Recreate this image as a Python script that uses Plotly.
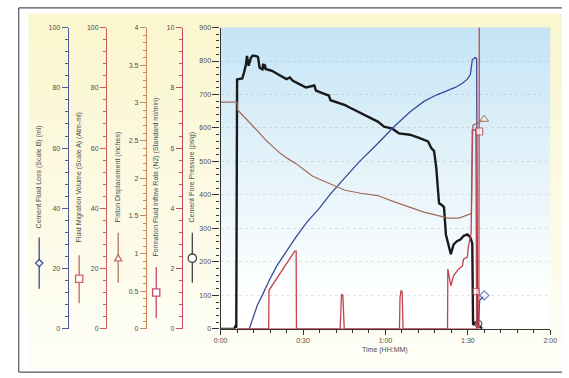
import plotly.graph_objects as go

W, H = 569, 378

# ---------------- data ----------------
# time in minutes
pressure_t = [0, 5.0, 5.3, 5.7, 6.0, 7.9, 8.5, 9.2, 9.6, 10.2, 11.0, 11.6, 12.8, 13.6, 14.2, 15.2, 15.5,
              15.8, 16.1, 16.4, 17.4, 18.7, 21.0, 24.0, 25.2, 26.3, 28.5, 31.1, 34.1, 34.7, 37.0, 39.4,
              40.0, 42.5, 45.3, 47.5, 50.1, 52.5, 54.7, 57.2, 59.5, 62.5, 64.9, 68.9, 72.0, 75.5, 76.7,
              77.7, 78.5, 79.1, 79.5, 80.5, 81.3, 82.0, 83.1, 83.8, 84.8, 86.0, 87.3, 88.5, 89.8, 90.9,
              91.6, 91.9, 92.7, 93.8, 95.1]
pressure_psig = [0, 0, 6, 4, 745, 748, 765, 789, 815, 786, 809, 816, 815, 812, 780, 775, 792,
                 776, 790, 776, 774, 771, 760, 746, 751, 741, 732, 721, 727, 712, 704, 697,
                 683, 676, 668, 659, 648, 638, 628, 619, 604, 598, 584, 580, 571, 560, 540,
                 531, 481, 404, 375, 370, 364, 282, 246, 223, 252, 262, 267, 278, 282, 273,
                 255, 12, 18, 15, 0]

piston_t = [0, 6.0, 6.1, 8.1, 10.0, 12.1, 14.5, 16.9, 19.3, 21.7, 24.5, 27.6, 30.5, 33.4, 36.4, 39.4,
            42.3, 45.3, 51.0, 57.2, 63.0, 68.9, 74.0, 78.5, 82.8, 86.7, 90.2, 91.3, 91.8, 93.3, 95.9]
piston_in = [3.01, 3.01, 2.91, 2.84, 2.76, 2.68, 2.58, 2.49, 2.41, 2.33, 2.26, 2.19, 2.11, 2.03, 1.98, 1.93,
             1.88, 1.84, 1.80, 1.77, 1.69, 1.62, 1.55, 1.51, 1.47, 1.47, 1.51, 1.53, 2.70, 2.73, 2.78]

fluid_loss_t = [10.4, 12.0, 13.4, 15.2, 17.8, 20.5, 24.0, 27.6, 31.5, 35.9, 40.0, 44.1, 50.5, 57.2, 63.0,
                68.9, 74.0, 78.5, 82.0, 85.6, 88.0, 89.7, 90.9, 91.6, 92.7, 93.2, 93.5, 93.8, 94.3, 96.0]
fluid_loss_ml = [0, 4.2, 7.9, 11.2, 16.3, 21.0, 26.0, 30.7, 35.5, 40.0, 44.8, 49.0, 55.5, 61.5, 67.0,
                 72.0, 75.5, 77.6, 79.0, 80.2, 81.5, 82.8, 84.4, 89.3, 90.0, 89.6, 1.0, 1.0, 9.5, 11.1]

inflow_t = [6.0, 17.5, 17.6, 27.0, 27.5, 27.6, 43.5, 43.7, 44.0, 44.5, 44.8, 45.0, 65.1, 65.3, 65.7,
            66.1, 66.4, 82.6, 82.7, 83.8, 84.8, 86.6, 88.0, 88.4, 89.8, 90.2, 91.2, 91.6, 92.9, 93.0, 93.2]
inflow_rate = [0, 0, 1.28, 2.58, 2.58, 0, 0, 0.9, 1.15, 1.12, 0.3, 0, 0, 1.05, 1.28,
               1.2, 0, 0, 1.99, 1.43, 1.76, 1.99, 2.08, 2.31, 2.38, 2.74, 3.19, 6.6, 6.6, 1.24, 0]

migration_t = [6.0, 94.0, 94.1, 94.15]
migration_vol = [0, 0, 65.5, 110]

x_tickvals = [0, 30, 60, 90, 120]
x_ticktext = ["0:00", "0:30", "1:00", "1:30", "2:00"]

# time at which each series carries its symbol
marker_time = {"pressure": 93.8, "piston": 95.9, "loss": 96.0, "inflow": 93.0, "migration": 94.1}


# ---------------- helpers ----------------
def px(x):
    return x / W


def py(y):
    return 1 - y / H


def msizes(ts, t_mark, size):
    return [size if t == t_mark else 0 for t in ts]


def lerp(c0, c1, f):
    f = max(0.0, min(1.0, f))
    return "rgb(%d,%d,%d)" % tuple(round(a + (b - a) * f) for a, b in zip(c0, c1))


FONT = "Liberation Sans, Arial, sans-serif"
TXT = "#4d4d4d"
C_BLUE = "#3b4a96"
C_MIG = "#c23a3f"
C_PIST = "#a3685a"
C_INF = "#c4424f"
C_PRES = "#1a1a1a"
AX_BLUE = "#4b5d9d"
AX_MIG = "#d05a5a"
AX_PIST = "#c9875a"
AX_INF = "#c84a6a"

fig = go.Figure()

fig.add_trace(go.Scatter(x=pressure_t, y=pressure_psig, yaxis="y", mode="lines+markers",
                         line=dict(color=C_PRES, width=2.4),
                         marker=dict(symbol="circle", size=msizes(pressure_t, marker_time["pressure"], 7),
                                     color="white", line=dict(color=C_PRES, width=1.3)),
                         showlegend=False, hoverinfo="skip"))
fig.add_trace(go.Scatter(x=fluid_loss_t, y=fluid_loss_ml, yaxis="y2", mode="lines+markers",
                         line=dict(color=C_BLUE, width=1.3),
                         marker=dict(symbol="diamond", size=msizes(fluid_loss_t, marker_time["loss"], 7),
                                     color="white", line=dict(color=C_BLUE, width=1.2)),
                         showlegend=False, hoverinfo="skip"))
fig.add_trace(go.Scatter(x=migration_t, y=migration_vol, yaxis="y3", mode="lines+markers",
                         line=dict(color=C_MIG, width=1.2),
                         marker=dict(symbol="square", size=msizes(migration_t, marker_time["migration"], 7),
                                     color="white", line=dict(color=C_MIG, width=1.2)),
                         showlegend=False, hoverinfo="skip"))
fig.add_trace(go.Scatter(x=piston_t, y=piston_in, yaxis="y4", mode="lines+markers",
                         line=dict(color=C_PIST, width=1.2),
                         marker=dict(symbol="triangle-up", size=msizes(piston_t, marker_time["piston"], 8),
                                     color="white", line=dict(color=C_PIST, width=1.2)),
                         showlegend=False, hoverinfo="skip"))
fig.add_trace(go.Scatter(x=inflow_t, y=inflow_rate, yaxis="y5", mode="lines+markers",
                         line=dict(color=C_INF, width=1.3),
                         marker=dict(symbol="square", size=msizes(inflow_t, marker_time["inflow"], 6),
                                     color="white", line=dict(color=C_INF, width=1.2)),
                         showlegend=False, hoverinfo="skip"))

# ---------------- background gradients & frame ----------------
shapes = []
N = 40
ytop, ybot = 10, 372
for i in range(N):
    y0 = ytop + (ybot - ytop) * i / N
    y1 = ytop + (ybot - ytop) * (i + 1) / N + 0.8
    shapes.append(dict(type="rect", xref="paper", yref="paper", x0=px(22), x1=1,
                       y0=py(y1), y1=py(y0), line=dict(width=0),
                       fillcolor=lerp((250, 246, 206), (254, 254, 247), i / (N - 1)), layer="below"))
ptop, pbot = 24, 331
for i in range(N):
    y0 = ptop + (pbot - ptop) * i / N
    y1 = ptop + (pbot - ptop) * (i + 1) / N + 0.8
    f = (i / (N - 1)) * 1.12
    shapes.append(dict(type="rect", xref="paper", yref="paper", x0=px(219), x1=px(557),
                       y0=py(min(y1, pbot)), y1=py(y0), line=dict(width=0),
                       fillcolor=lerp((196, 228, 245), (254, 255, 254), f ** 0.9), layer="below"))

frame = dict(color="#555555", width=1.2)
shapes.append(dict(type="line", xref="paper", yref="paper", x0=px(12), x1=1, y0=py(4), y1=py(4), line=frame))
shapes.append(dict(type="line", xref="paper", yref="paper", x0=px(12), x1=px(12), y0=py(4), y1=py(375), line=frame))
shapes.append(dict(type="line", xref="paper", yref="paper", x0=px(12), x1=1, y0=py(375), y1=py(375), line=frame))

# ---------------- legend keys beside the axis titles ----------------
legend_items = [
    # title, x, line top, line bottom, marker y, color, kind
    ("Cement Fluid Loss (Scale B) (ml)", 33, 238, 290, 264, C_BLUE, "diamond"),
    ("Fluid Migration Volume (Scale A) (Atm-ml)", 74, 256, 305, 280, "#d06060", "square"),
    ("Piston Displacement (inches)", 114, 233, 284, 259, "#c0705e", "triangle"),
    ("Formation Fluid Inflow Rate (N2) (Standard ml/min)", 153, 268, 320, 294, AX_INF, "square"),
    ("Cement Pore Pressure (psig)", 190, 233, 284, 259, "#444444", "circle"),
]
annotations = []
for title, xc, lt, lb, my, col, kind in legend_items:
    annotations.append(dict(text=title, xref="paper", yref="paper", x=px(xc), y=py(176.5),
                            textangle=-90, showarrow=False, xanchor="center", yanchor="middle",
                            font=dict(family=FONT, size=7, color=TXT)))
    shapes.append(dict(type="line", xref="paper", yref="paper", x0=px(xc), x1=px(xc),
                       y0=py(lb), y1=py(lt), line=dict(color=col, width=1.3)))
    s = 4.2 if kind == "circle" else 3.6
    base = dict(xref="paper", yref="paper", xsizemode="pixel", ysizemode="pixel",
                xanchor=px(xc), yanchor=py(my), line=dict(color=col, width=1.3), fillcolor="white")
    if kind == "circle":
        shapes.append(dict(type="circle", x0=-s, x1=s, y0=-s, y1=s, **base))
    elif kind == "square":
        shapes.append(dict(type="rect", x0=-s, x1=s, y0=-s, y1=s, **base))
    elif kind == "diamond":
        shapes.append(dict(type="path", path=f"M 0,{s} L {s},0 L 0,{-s} L {-s},0 Z", **base))
    else:
        shapes.append(dict(type="path", path=f"M {-s},{-s*0.75} L {s},{-s*0.75} L 0,{s} Z", **base))

annotations.append(dict(text="Time (HH:MM)", xref="paper", yref="paper", x=px(388), y=py(353),
                        showarrow=False, xanchor="center", yanchor="middle",
                        font=dict(family=FONT, size=7, color=TXT)))

tickfont = dict(family=FONT, size=7, color=TXT)
dom_y = [py(331), py(24)]


def side_axis(pos, rng, dtick, mdtick, color):
    return dict(overlaying="y", anchor="free", position=pos, side="left", range=rng,
                tick0=0, dtick=dtick, showline=True, linecolor=color, linewidth=1.3,
                ticks="outside", ticklen=6, tickcolor=color, tickwidth=1.1,
                minor=dict(tick0=0, dtick=mdtick, ticks="outside", ticklen=3, tickcolor=color),
                showgrid=False, zeroline=False, tickfont=tickfont, fixedrange=True)


fig.update_layout(
    width=W, height=H, autosize=False,
    margin=dict(l=0, r=0, t=0, b=0),
    paper_bgcolor="white", plot_bgcolor="rgba(0,0,0,0)",
    font=dict(family=FONT, size=7, color=TXT),
    showlegend=False,
    xaxis=dict(domain=[px(219), px(557)], range=[0, 120], tickmode="array", tickvals=x_tickvals,
               ticktext=x_ticktext, showline=True, linecolor="#333333", linewidth=1.3,
               ticks="outside", ticklen=5, tickcolor="#333333",
               minor=dict(tickmode="linear", tick0=0, dtick=6, ticks="outside", ticklen=3, tickcolor="#333333"),
               showgrid=False, zeroline=False, tickfont=tickfont, anchor="y"),
    yaxis=dict(domain=dom_y, range=[0, 900], tick0=0, dtick=100, showline=True, linecolor="#333333",
               linewidth=1.3, ticks="outside", ticklen=7, tickcolor="#333333",
               minor=dict(tick0=0, dtick=20, ticks="outside", ticklen=3, tickcolor="#333333"),
               showgrid=True, gridcolor="rgba(150,170,190,0.3)", griddash="dot", gridwidth=1,
               zeroline=False, tickfont=tickfont, anchor="x"),
    yaxis2=side_axis(px(62.3), [0, 100], 20, 4, AX_BLUE),
    yaxis3=side_axis(px(101.7), [0, 100], 20, 4, AX_MIG),
    yaxis4=side_axis(px(142.5), [0, 4], 0.5, 0.1, AX_PIST),
    yaxis5=side_axis(px(179.3), [0, 10], 2, 0.4, AX_INF),
    shapes=shapes,
    annotations=annotations,
)

fig.write_html("out.html", config={"displayModeBar": False},
               post_script="document.body.style.margin='0';document.body.style.overflow='hidden';")
